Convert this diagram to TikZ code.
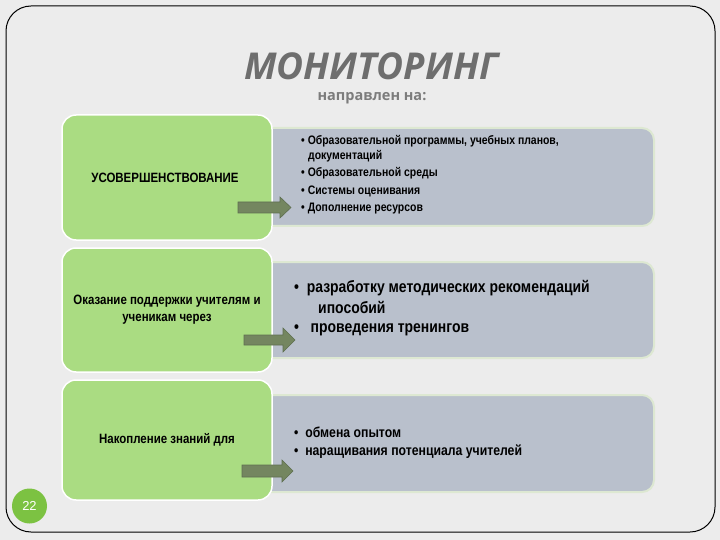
\documentclass[tikz,border=0pt]{standalone}
\usepackage{fontspec}
\setmainfont{Liberation Sans}
\newfontfamily\narrowf[FakeStretch=0.85]{Liberation Sans}
\newfontfamily\titlef{Open Sans}
\definecolor{bg}{HTML}{ECECEC}
\definecolor{greenbox}{HTML}{AADC82}
\definecolor{graybox}{HTML}{B9C0CC}
\definecolor{grayedge}{HTML}{DDE8D2}
\definecolor{arrowc}{HTML}{748660}
\definecolor{arrowd}{HTML}{5E6E50}
\definecolor{titlec}{HTML}{6E6E6E}
\definecolor{pagec}{HTML}{7CC242}
\tikzset{
  greenb/.style={fill=greenbox, draw=white, line width=1.5pt, rounded corners=14pt},
  grayb/.style={fill=graybox, draw=grayedge, line width=2pt, rounded corners=12pt},
  arr/.style={fill=arrowc, draw=arrowd, line width=0.6pt},
  lt/.style={font=\fontsize{13.5}{15}\selectfont\narrowf\bfseries, inner sep=0pt, align=center},
  st/.style={font=\fontsize{12.3}{14}\selectfont\narrowf\bfseries, inner sep=0pt, anchor=west},
  bt/.style={font=\fontsize{16.4}{18}\selectfont\narrowf\bfseries, inner sep=0pt, anchor=west},
  ct/.style={font=\fontsize{14.4}{16}\selectfont\narrowf\bfseries, inner sep=0pt, anchor=west},
}
\begin{document}
\begin{tikzpicture}[x=1pt,y=-1pt]
\useasboundingbox (0,0) rectangle (720,540);
\fill[bg] (0,0) rectangle (720,540);
\draw[black, line width=1pt, rounded corners=25pt] (6,6) rectangle (715,532);

% title
\node[font=\fontsize{37}{40}\selectfont\titlef\bfseries\itshape, text=titlec, inner sep=0pt] (title) at (371,66) {МОНИТОРИНГ};
\node[font=\fontsize{14.5}{16}\selectfont\titlef\bfseries, text=titlec!90, inner sep=0pt] (sub) at (372,98) {направлен на:};

% row 1
\draw[grayb] (250,128) rectangle (654,226);
\draw[greenb] (62,115) rectangle (272,240);
\node[lt] (l1) at (165,178) {УСОВЕРШЕНСТВОВАНИЕ};
\node[st] (r1a) at (301,141) {\textbullet\ Образовательной программы, учебных планов,};
\node[st] (r1b) at (308,156) {документаций};
\node[st] (r1c) at (301,173) {\textbullet\ Образовательной среды};
\node[st] (r1d) at (301,191) {\textbullet\ Системы оценивания};
\node[st] (r1e) at (301,209) {\textbullet\ Дополнение ресурсов};
\draw[arr] (238,202) -- (280,202) -- (280,197) -- (291,207.5) -- (280,218) -- (280,213) -- (238,213) -- cycle;

% row 2
\draw[grayb] (250,262) rectangle (654,358);
\draw[greenb] (62,248) rectangle (272,372);
\node[lt] (l2) at (167,309.5) {Оказание поддержки учителям и\\[2pt]ученикам через};
\node[bt] (r2a) at (294,288) {\textbullet\ \ разработку методических рекомендаций};
\node[bt] (r2b) at (318,307) {ипособий};
\node[bt] (r2c) at (294,330) {\textbullet\ \ \ проведения тренингов};
\draw[arr] (244,335) -- (283,335) -- (283,328) -- (295,340) -- (283,352) -- (283,345) -- (244,345) -- cycle;

% row 3
\draw[grayb] (250,395) rectangle (654,492);
\draw[greenb] (62,380) rectangle (272,500);
\node[lt] (l3) at (167,440) {Накопление знаний для};
\node[ct] (r3a) at (294,432) {\textbullet\ \ обмена опытом};
\node[ct] (r3b) at (294,452) {\textbullet\ \ наращивания потенциала учителей};
\draw[arr] (242,465) -- (282,465) -- (282,460) -- (293,471) -- (282,482) -- (282,477) -- (242,477) -- cycle;

% page number
\node[circle, fill=pagec, minimum size=35pt, inner sep=0pt, text=white, font=\fontsize{13}{15}\selectfont] (pg) at (29.5,506) {22};
\end{tikzpicture}
\end{document}
